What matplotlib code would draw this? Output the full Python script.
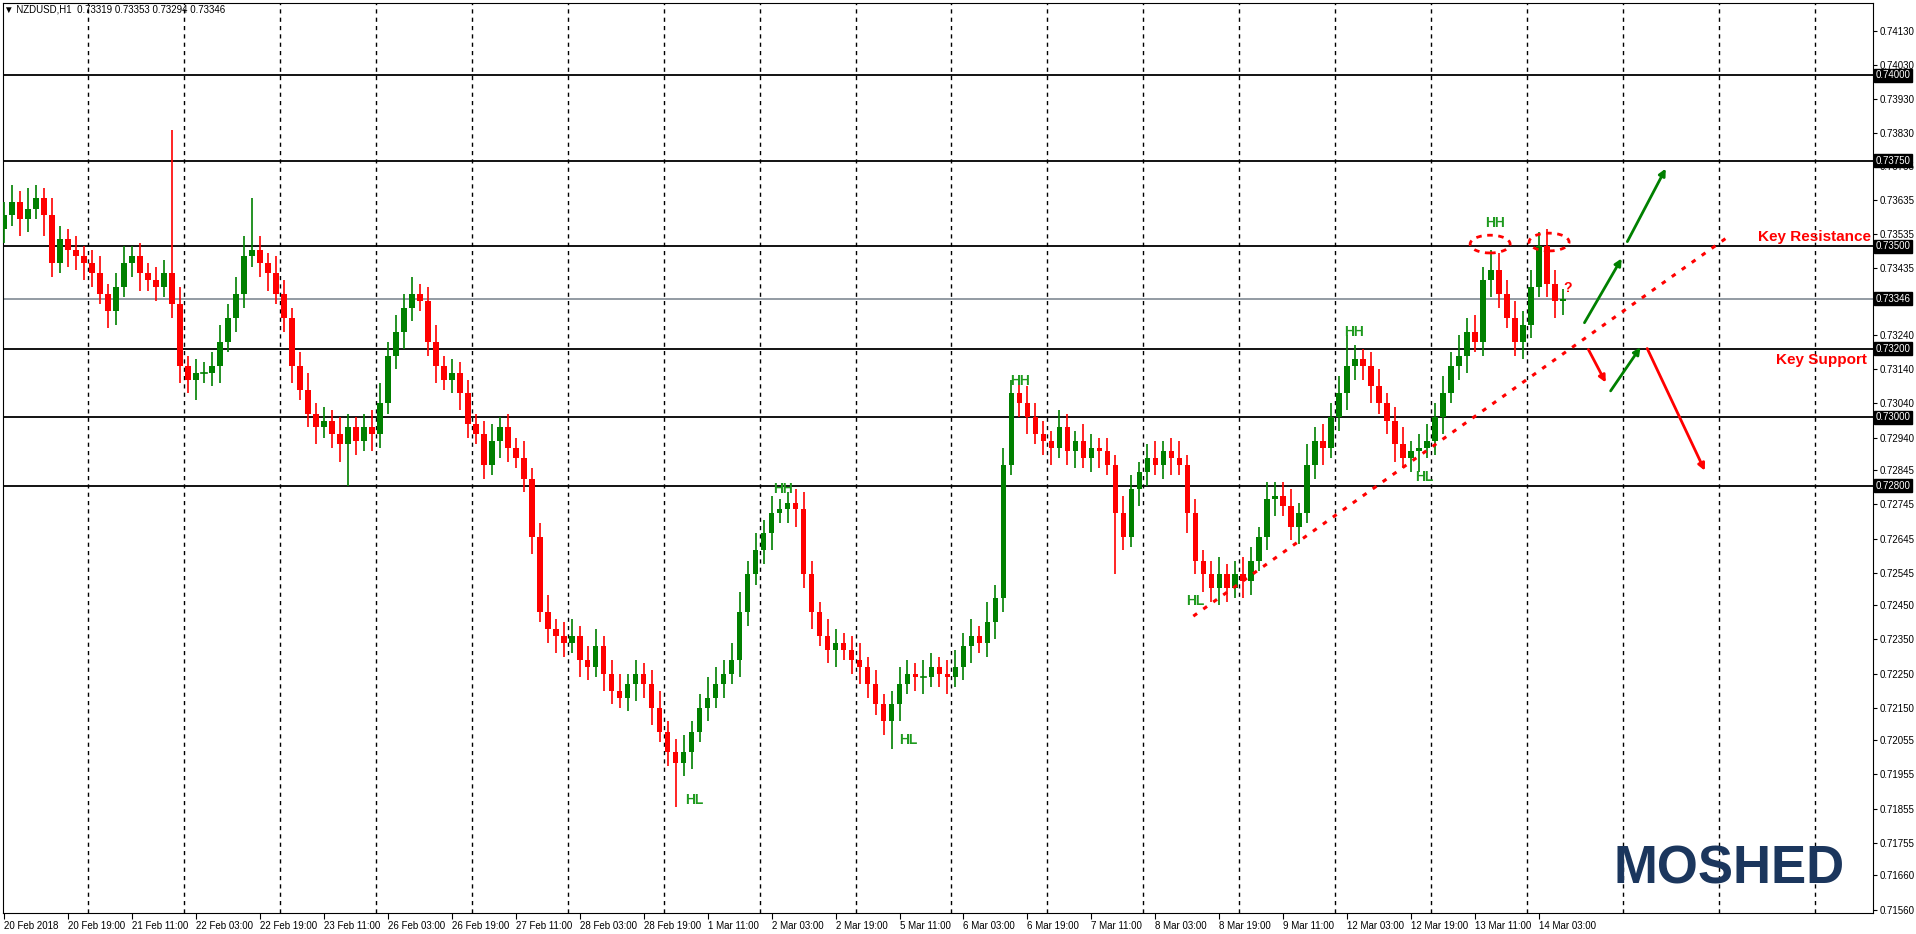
import matplotlib
matplotlib.use('Agg')
import matplotlib.pyplot as plt
from matplotlib.patches import Ellipse, Rectangle

plt.rcParams['font.family'] = ['Liberation Sans', 'DejaVu Sans']

# Cierres de velas (cada vela = 2 horas)
closes = [
    0.7359, 0.7363, 0.7358, 0.7361, 0.7364, 0.7359, 0.7345, 0.7352, 0.7349, 0.7347,
    0.7345, 0.7342, 0.7336, 0.7331, 0.7338, 0.7345, 0.7347, 0.7342, 0.7340, 0.7338,
    0.7342, 0.7333, 0.7315, 0.7311, 0.7313, 0.7313, 0.7315, 0.7322, 0.7329, 0.7336,
    0.7347, 0.7349, 0.7345, 0.7342, 0.7336, 0.7329, 0.7315, 0.7308, 0.7301, 0.7297,
    0.7299, 0.7295, 0.7292, 0.7297, 0.7293, 0.7297, 0.7295, 0.7304, 0.7318, 0.7325,
    0.7332, 0.7336, 0.7334, 0.7322, 0.7315, 0.7311, 0.7313, 0.7307, 0.7298, 0.7295,
    0.7286, 0.7293, 0.7297, 0.7291, 0.7288, 0.7282, 0.7265, 0.7243, 0.7238, 0.7236,
    0.7234, 0.7236, 0.7229, 0.7227, 0.7233, 0.7225, 0.7220, 0.7218, 0.7222, 0.7225,
    0.7222, 0.7215, 0.7208, 0.7202, 0.7199, 0.7202, 0.7208, 0.7215, 0.7218, 0.7222,
    0.7225, 0.7229, 0.7243, 0.7254, 0.7261, 0.7266, 0.7272, 0.7273, 0.7275, 0.7273,
    0.7254, 0.7243, 0.7236, 0.7232, 0.7234, 0.7232, 0.7229, 0.7227, 0.7222, 0.7216,
    0.7211, 0.7216, 0.7222, 0.7225, 0.7224, 0.7224, 0.7227, 0.7225, 0.7224, 0.7227,
    0.7233, 0.7236, 0.7234, 0.7240, 0.7247, 0.7286, 0.7307, 0.7304, 0.7300, 0.7295,
    0.7293, 0.7291, 0.7297, 0.7290, 0.7293, 0.7288, 0.7291, 0.7290, 0.7286, 0.7272,
    0.7265, 0.7279, 0.7284, 0.7288, 0.7286, 0.7290, 0.7288, 0.7286, 0.7272, 0.7258,
    0.7254, 0.7250, 0.7254, 0.7250, 0.7254, 0.7252, 0.7258, 0.7265, 0.7276, 0.7277,
    0.7274, 0.7268, 0.7272, 0.7286, 0.7293, 0.7291, 0.7300, 0.7307, 0.7315, 0.7317,
    0.7315, 0.7309, 0.7304, 0.7299, 0.7292, 0.7288, 0.7290, 0.7291, 0.7293, 0.7300,
    0.7307, 0.7315, 0.7318, 0.7325, 0.7322, 0.7340, 0.7343, 0.7336, 0.7329, 0.7322,
    0.7327, 0.7338, 0.7350, 0.7339, 0.7334, 0.73346,
]
open_first = 0.7355

# Mechas en pips (0.0001)
wick_up = [
    4, 5, 3, 6, 4, 3, 5, 4, 3, 4, 3, 4, 5, 3, 4, 5, 3, 4, 3, 4,
    4, 42, 5, 3, 4, 3, 4, 5, 4, 5, 6, 15, 4, 3, 5, 4, 3, 4, 5, 3,
    4, 3, 5, 4, 3, 4, 5, 6, 4, 5, 4, 5, 3, 4, 5, 3, 4, 3, 4, 3,
    4, 5, 3, 4, 3, 5, 3, 4, 5, 3, 4, 5, 3, 4, 5, 3, 4, 5, 3, 4,
    3, 4, 5, 3, 4, 5, 3, 4, 6, 5, 4, 5, 6, 4, 5, 4, 5, 3, 3, 4,
    5, 4, 3, 5, 4, 3, 4, 5, 3, 4, 3, 4, 5, 4, 3, 5, 4, 3, 4, 5,
    4, 5, 3, 6, 4, 5, 4, 3, 5, 4, 4, 3, 5, 4, 3, 5, 4, 3, 4, 3,
    5, 4, 3, 4, 5, 3, 4, 5, 3, 4, 3, 4, 5, 3, 4, 5, 4, 3, 5, 4,
    4, 5, 3, 6, 4, 5, 4, 5, 9, 4, 3, 4, 5, 3, 4, 5, 3, 4, 5, 4,
    5, 4, 6, 4, 5, 4, 6, 5, 4, 5, 4, 5, 4, 5, 4, 3,
]
wick_down = [
    4, 3, 5, 4, 3, 6, 4, 3, 5, 4, 5, 4, 3, 5, 4, 3, 4, 5, 3, 4,
    3, 4, 5, 4, 6, 3, 4, 5, 3, 4, 4, 3, 4, 5, 3, 4, 5, 3, 4, 5,
    3, 4, 5, 12, 4, 3, 5, 4, 3, 4, 5, 4, 3, 4, 5, 3, 4, 5, 4, 3,
    4, 3, 5, 4, 3, 4, 5, 3, 4, 5, 4, 3, 5, 4, 3, 5, 4, 3, 4, 5,
    4, 5, 3, 4, 13, 4, 5, 3, 4, 3, 4, 3, 5, 4, 3, 4, 5, 3, 4, 5,
    4, 5, 3, 4, 5, 3, 4, 5, 4, 3, 4, 8, 5, 3, 4, 5, 3, 4, 5, 3,
    4, 5, 3, 4, 5, 4, 3, 4, 5, 3, 4, 5, 3, 4, 5, 3, 4, 5, 3, 18,
    4, 3, 5, 4, 3, 4, 5, 3, 6, 4, 5, 4, 5, 4, 3, 5, 4, 3, 4, 5,
    3, 4, 5, 3, 4, 5, 3, 4, 5, 4, 4, 5, 3, 4, 5, 3, 4, 6, 3, 4,
    5, 3, 4, 5, 3, 4, 5, 4, 3, 4, 5, 4, 3, 4, 5, 4,
]

x_labels = ["20 Feb 2018", "20 Feb 19:00", "21 Feb 11:00", "22 Feb 03:00", "22 Feb 19:00",
            "23 Feb 11:00", "26 Feb 03:00", "26 Feb 19:00", "27 Feb 11:00", "28 Feb 03:00",
            "28 Feb 19:00", "1 Mar 11:00", "2 Mar 03:00", "2 Mar 19:00", "5 Mar 11:00",
            "6 Mar 03:00", "6 Mar 19:00", "7 Mar 11:00", "8 Mar 03:00", "8 Mar 19:00",
            "9 Mar 11:00", "12 Mar 03:00", "12 Mar 19:00", "13 Mar 11:00", "14 Mar 03:00"]
y_ticks = [0.74130, 0.74030, 0.73930, 0.73830, 0.73735, 0.73635, 0.73535, 0.73435,
           0.73240, 0.73140, 0.73040, 0.72940, 0.72845, 0.72745, 0.72645, 0.72545,
           0.72450, 0.72350, 0.72250, 0.72150, 0.72055, 0.71955, 0.71855, 0.71755,
           0.71660, 0.71560]
levels = [0.74000, 0.73750, 0.73500, 0.73200, 0.73000, 0.72800]
current = 0.73346

# Etiquetas HH / HL (hora, precio)
marks = [("HH", 373, 0.73567), ("HH", 337.75, 0.73249), ("HL", 355.25, 0.72825),
         ("HH", 254.25, 0.73105), ("HH", 194.75, 0.72789), ("HL", 172.75, 0.71880),
         ("HL", 226.25, 0.72056), ("HL", 298, 0.72462)]
green_arrows = [((395, 0.73269), (405, 0.73471)), ((405.75, 0.73506), (416, 0.73734)),
                ((401.5, 0.73070), (409.75, 0.73211))]
red_arrows = [((396, 0.73205), (401, 0.73094)), ((410.75, 0.73208), (425.75, 0.72836))]
trend = ((297.5, 0.72418), (430.75, 0.73523))

GREEN = '#008000'
RED = '#ff0000'

fig = plt.figure(figsize=(19.16, 9.34), dpi=100)
ax = fig.add_axes([0.0016, 0.0225, 0.9759, 0.9743])

prev = open_first
for i, c in enumerate(closes):
    o = prev
    x = 2 * i
    col = GREEN if c >= o else RED
    hi = max(o, c) + wick_up[i] / 10000
    lo = min(o, c) - wick_down[i] / 10000
    ax.plot([x, x], [lo, hi], color=col, lw=1.2, zorder=3, solid_capstyle='butt')
    h = abs(c - o)
    if h < 0.00002:
        ax.plot([x - 0.7, x + 0.7], [c, c], color=col, lw=1.2, zorder=3)
    else:
        ax.add_patch(Rectangle((x - 0.7, min(o, c)), 1.4, h, color=col, zorder=3, lw=0))
    prev = c

for lv in levels:
    ax.axhline(lv, color='black', lw=1.3, zorder=2)
ax.axhline(current, color='#8a939c', lw=1.3, zorder=2)

for g in range(21, 468, 24):
    ax.axvline(g, color='black', lw=1, ls=(0, (3, 3)), zorder=1)

(x0, y0), (x1, y1) = trend
ax.plot([x0, x1], [y0, y1], color=RED, lw=2.2, ls=(0, (1.5, 2.5)), zorder=4)

for (s, e) in green_arrows:
    ax.annotate('', xy=e, xytext=s, arrowprops=dict(arrowstyle='-|>', color=GREEN, lw=2,
                                                  mutation_scale=10), zorder=5)
for (s, e) in red_arrows:
    ax.annotate('', xy=e, xytext=s, arrowprops=dict(arrowstyle='-|>', color=RED, lw=2,
                                                  mutation_scale=10), zorder=5)

for cx, cy in [(371.75, 0.73506), (386.5, 0.73512)]:
    ax.add_patch(Ellipse((cx, cy), 10, 0.00052, fill=False, ec=RED, lw=2,
                         ls=(0, (2, 2)), zorder=5))

for txt, hx, py in marks:
    ax.text(hx, py, txt, color='#1e9a1e', fontsize=10, fontweight='bold',
            ha='center', va='center', zorder=6)
ax.text(391, 0.73377, '?', color=RED, fontsize=10, fontweight='bold', ha='center', va='center')
ax.text(453, 0.73526, 'Key Resistance', color=RED, fontsize=11, fontweight='bold',
        ha='center', va='center')
ax.text(454.75, 0.73167, 'Key Support', color=RED, fontsize=11, fontweight='bold',
        ha='center', va='center')

ax.set_xlim(-0.25, 467.5)
ax.set_ylim(0.71550, 0.74211)
ax.set_xticks([16 * k for k in range(len(x_labels))])
ax.set_xticklabels(x_labels, ha='left', fontsize=7)
ax.tick_params(axis='x', length=4, pad=2)
ax.yaxis.tick_right()
ax.set_yticks(y_ticks)
ax.set_yticklabels([f'{v:.5f}' for v in y_ticks], fontsize=7)
ax.tick_params(axis='y', length=3, pad=2)
for sp in ax.spines.values():
    sp.set_color('black')

for lv in levels + [current]:
    ax.text(1.0015, lv, f'{lv:.5f}', transform=ax.get_yaxis_transform(), fontsize=7,
            color='white', va='center', ha='left', zorder=10, clip_on=False,
            bbox=dict(boxstyle='square,pad=0.15', fc='black', ec='black'))

fig.text(0.002, 0.99, '\u25bc NZDUSD,H1  0.73319 0.73353 0.73294 0.73346', fontsize=7,
         va='center', ha='left')
fig.text(0.9025, 0.069, 'MOSHED', fontsize=38, fontweight='bold', color='#1b365d',
         ha='center', va='center')

fig.savefig('out.png', dpi=100)
